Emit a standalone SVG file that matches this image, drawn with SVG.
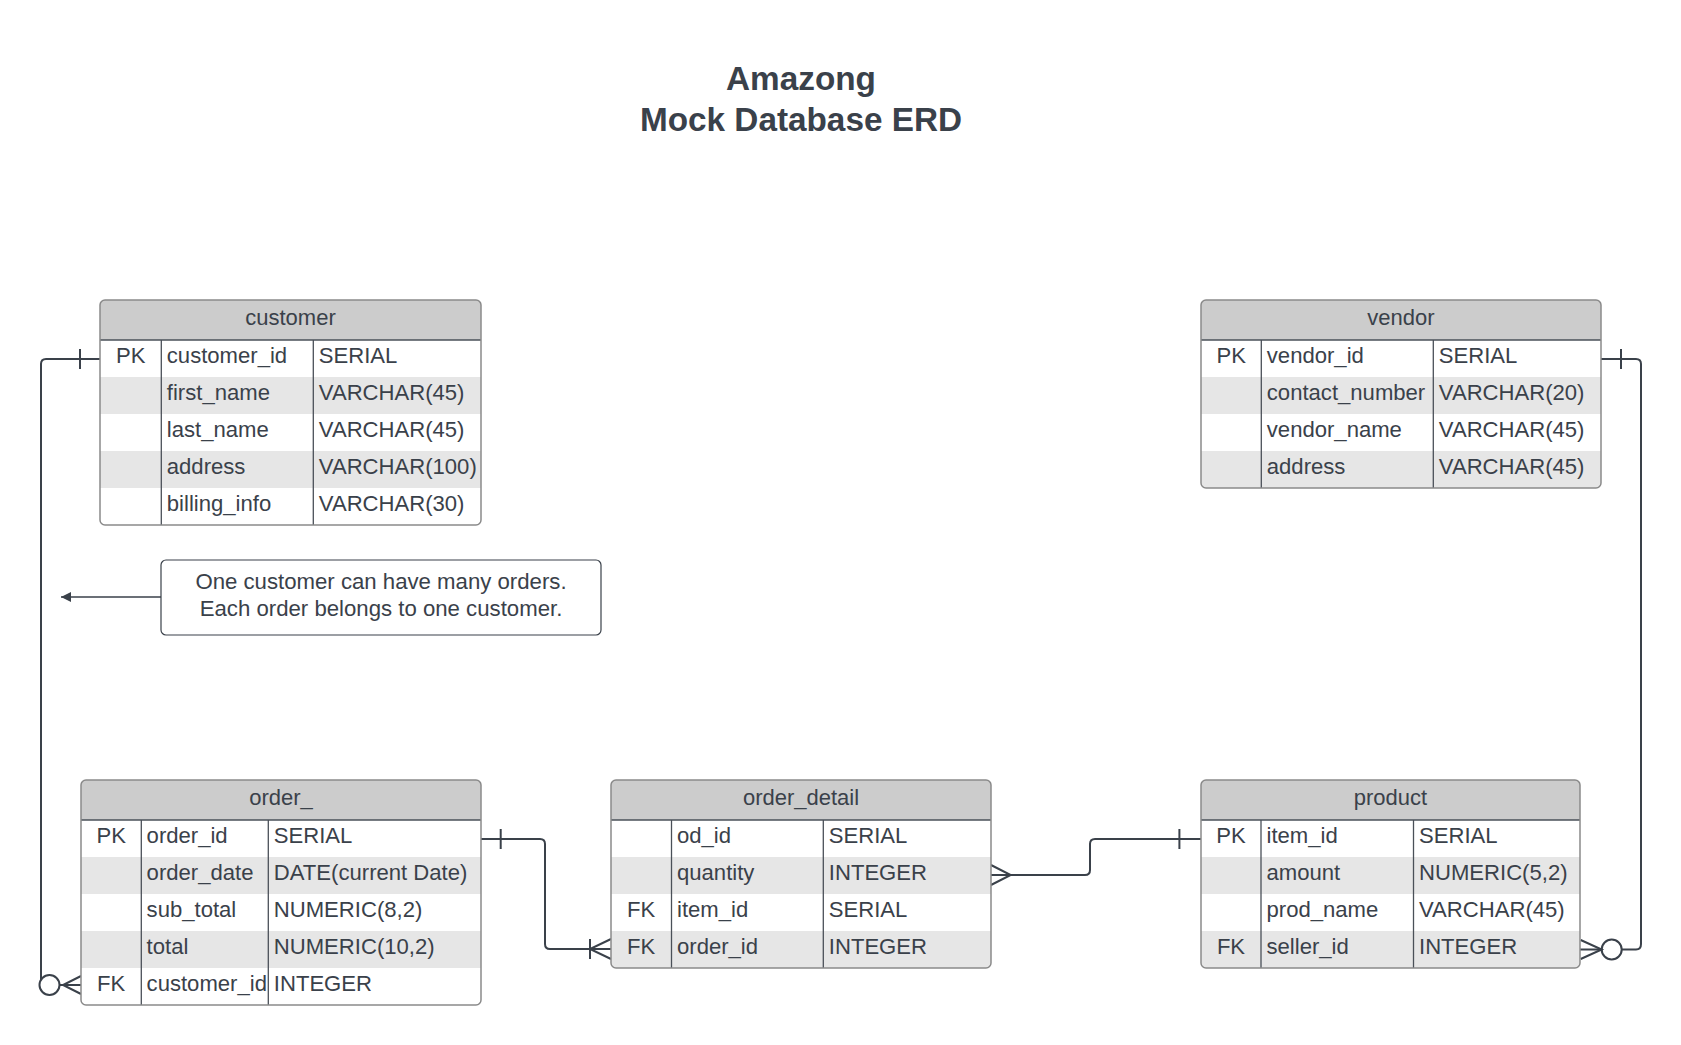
<svg xmlns="http://www.w3.org/2000/svg" width="1681" height="1045" viewBox="0 0 1681 1045">
<style>
  text { font-family: "Liberation Sans", Arial, sans-serif; fill: #3a414a; }
  .title { font-size: 33.3px; font-weight: bold; text-anchor: middle; }
  .th { font-size: 22px; text-anchor: middle; }
  .td { font-size: 22.1px; }
  .key { font-size: 22.1px; text-anchor: middle; }
  .note { font-size: 22.2px; text-anchor: middle; }
  .hdr { fill: #cccccc; }
  .alt { fill: #e6e6e6; }
  .bg { fill: #ffffff; }
  .frame { fill: none; stroke: #8a8a8a; stroke-width: 1.5; }
  .div { stroke: #4a5058; stroke-width: 1.3; }
  .conn { fill: none; stroke: #3a414a; stroke-width: 2; }
  .circ { fill: #ffffff; stroke: #3a414a; stroke-width: 2; }
</style>
<defs>
  <clipPath id="clip-customer"><rect x="100" y="300" width="381" height="225" rx="5"/></clipPath>
  <clipPath id="clip-vendor"><rect x="1201" y="300" width="400" height="188" rx="5"/></clipPath>
  <clipPath id="clip-order"><rect x="81" y="780" width="400" height="225" rx="5"/></clipPath>
  <clipPath id="clip-od"><rect x="611" y="780" width="380" height="188" rx="5"/></clipPath>
  <clipPath id="clip-product"><rect x="1201" y="780" width="379" height="188" rx="5"/></clipPath>
  <marker id="arrow" viewBox="0 0 10 10" refX="10" refY="5" markerWidth="15" markerHeight="10" markerUnits="userSpaceOnUse" orient="auto">
    <path d="M0,0 L10,5 L0,10 z" fill="#3a414a"/>
  </marker>
</defs>
<rect width="1681" height="1045" fill="#ffffff"/>

<g id="title">
  <text class="title" x="801" y="90">Amazong</text>
  <text class="title" x="801" y="131">Mock Database ERD</text>
</g>

<g id="connectors">
  <!-- customer -> order_ -->
  <path class="conn" d="M100,359 H46 Q41,359 41,364 V980 Q41,985 46,985 H81"/>
  <line class="conn" x1="80" y1="349" x2="80" y2="369"/>
  <circle class="circ" cx="49.5" cy="985" r="10"/>
  <path class="conn" d="M81,976 L63,985 L81,994"/>
  <!-- order_ -> order_detail -->
  <path class="conn" d="M481,839 H540 Q545,839 545,844 V944 Q545,949 550,949 H611"/>
  <line class="conn" x1="500.7" y1="829" x2="500.7" y2="849"/>
  <line class="conn" x1="590" y1="939" x2="590" y2="959"/>
  <path class="conn" d="M611,939 L590,949 L611,959"/>
  <!-- order_detail -> product -->
  <path class="conn" d="M991,875 H1085 Q1090,875 1090,870 V844 Q1090,839 1095,839 H1201"/>
  <path class="conn" d="M991,865 L1010.7,875 L991,885"/>
  <line class="conn" x1="1179.4" y1="829" x2="1179.4" y2="849"/>
  <!-- vendor -> product -->
  <path class="conn" d="M1601,359 H1636 Q1641,359 1641,364 V944 Q1641,949.5 1636,949.5 H1580"/>
  <line class="conn" x1="1621" y1="349" x2="1621" y2="369"/>
  <circle class="circ" cx="1611.7" cy="949.5" r="10"/>
  <path class="conn" d="M1580.7,940 L1601.7,949.5 L1580.7,959"/>
  <!-- note arrow -->
  <line x1="161" y1="597" x2="61" y2="597" stroke="#3a414a" stroke-width="1.5" marker-end="url(#arrow)"/>
</g>

<g id="note">
  <rect x="161" y="560" width="440" height="75" rx="5" fill="#ffffff" stroke="#3a414a" stroke-width="1.2"/>
  <text class="note" x="381" y="589">One customer can have many orders.</text>
  <text class="note" x="381" y="616">Each order belongs to one customer.</text>
</g>

<g id="customer">
  <g clip-path="url(#clip-customer)">
    <rect class="bg" x="100" y="300" width="381" height="225"/>
    <rect class="hdr" x="100" y="300" width="381" height="40"/>
    <rect class="alt" x="100" y="377" width="381" height="37"/>
    <rect class="alt" x="100" y="451" width="381" height="37"/>
  </g>
  <line class="div" x1="100" y1="340" x2="481" y2="340"/>
  <line class="div" x1="161.3" y1="340" x2="161.3" y2="525"/>
  <line class="div" x1="313.3" y1="340" x2="313.3" y2="525"/>
  <rect class="frame" x="100" y="300" width="381" height="225" rx="5"/>
  <text class="th" x="290.5" y="325">customer</text>
  <text class="key" x="130.7" y="362.5">PK</text>
  <text class="td" x="166.8" y="362.5">customer_id</text>
  <text class="td" x="318.8" y="362.5">SERIAL</text>
  <text class="td" x="166.8" y="399.5">first_name</text>
  <text class="td" x="318.8" y="399.5">VARCHAR(45)</text>
  <text class="td" x="166.8" y="436.5">last_name</text>
  <text class="td" x="318.8" y="436.5">VARCHAR(45)</text>
  <text class="td" x="166.8" y="473.5">address</text>
  <text class="td" x="318.8" y="473.5">VARCHAR(100)</text>
  <text class="td" x="166.8" y="510.5">billing_info</text>
  <text class="td" x="318.8" y="510.5">VARCHAR(30)</text>
</g>

<g id="vendor">
  <g clip-path="url(#clip-vendor)">
    <rect class="bg" x="1201" y="300" width="400" height="188"/>
    <rect class="hdr" x="1201" y="300" width="400" height="40"/>
    <rect class="alt" x="1201" y="377" width="400" height="37"/>
    <rect class="alt" x="1201" y="451" width="400" height="37"/>
  </g>
  <line class="div" x1="1201" y1="340" x2="1601" y2="340"/>
  <line class="div" x1="1261.3" y1="340" x2="1261.3" y2="488"/>
  <line class="div" x1="1433.3" y1="340" x2="1433.3" y2="488"/>
  <rect class="frame" x="1201" y="300" width="400" height="188" rx="5"/>
  <text class="th" x="1401" y="325">vendor</text>
  <text class="key" x="1231.2" y="362.5">PK</text>
  <text class="td" x="1266.8" y="362.5">vendor_id</text>
  <text class="td" x="1438.8" y="362.5">SERIAL</text>
  <text class="td" x="1266.8" y="399.5">contact_number</text>
  <text class="td" x="1438.8" y="399.5">VARCHAR(20)</text>
  <text class="td" x="1266.8" y="436.5">vendor_name</text>
  <text class="td" x="1438.8" y="436.5">VARCHAR(45)</text>
  <text class="td" x="1266.8" y="473.5">address</text>
  <text class="td" x="1438.8" y="473.5">VARCHAR(45)</text>
</g>

<g id="order_">
  <g clip-path="url(#clip-order)">
    <rect class="bg" x="81" y="780" width="400" height="225"/>
    <rect class="hdr" x="81" y="780" width="400" height="40"/>
    <rect class="alt" x="81" y="857" width="400" height="37"/>
    <rect class="alt" x="81" y="931" width="400" height="37"/>
  </g>
  <line class="div" x1="81" y1="820" x2="481" y2="820"/>
  <line class="div" x1="141.3" y1="820" x2="141.3" y2="1005"/>
  <line class="div" x1="268.3" y1="820" x2="268.3" y2="1005"/>
  <rect class="frame" x="81" y="780" width="400" height="225" rx="5"/>
  <text class="th" x="281" y="805">order_</text>
  <text class="key" x="111.2" y="842.5">PK</text>
  <text class="td" x="146.6" y="842.5">order_id</text>
  <text class="td" x="273.8" y="842.5">SERIAL</text>
  <text class="td" x="146.6" y="879.5">order_date</text>
  <text class="td" x="273.8" y="879.5">DATE(current Date)</text>
  <text class="td" x="146.6" y="916.5">sub_total</text>
  <text class="td" x="273.8" y="916.5">NUMERIC(8,2)</text>
  <text class="td" x="146.6" y="953.5">total</text>
  <text class="td" x="273.8" y="953.5">NUMERIC(10,2)</text>
  <text class="key" x="111.2" y="990.5">FK</text>
  <text class="td" x="146.6" y="990.5">customer_id</text>
  <text class="td" x="273.8" y="990.5">INTEGER</text>
</g>

<g id="order_detail">
  <g clip-path="url(#clip-od)">
    <rect class="bg" x="611" y="780" width="380" height="188"/>
    <rect class="hdr" x="611" y="780" width="380" height="40"/>
    <rect class="alt" x="611" y="857" width="380" height="37"/>
    <rect class="alt" x="611" y="931" width="380" height="37"/>
  </g>
  <line class="div" x1="611" y1="820" x2="991" y2="820"/>
  <line class="div" x1="671.5" y1="820" x2="671.5" y2="968"/>
  <line class="div" x1="823.3" y1="820" x2="823.3" y2="968"/>
  <rect class="frame" x="611" y="780" width="380" height="188" rx="5"/>
  <text class="th" x="801" y="805">order_detail</text>
  <text class="td" x="677" y="842.5">od_id</text>
  <text class="td" x="828.8" y="842.5">SERIAL</text>
  <text class="td" x="677" y="879.5">quantity</text>
  <text class="td" x="828.8" y="879.5">INTEGER</text>
  <text class="key" x="641.2" y="916.5">FK</text>
  <text class="td" x="677" y="916.5">item_id</text>
  <text class="td" x="828.8" y="916.5">SERIAL</text>
  <text class="key" x="641.2" y="953.5">FK</text>
  <text class="td" x="677" y="953.5">order_id</text>
  <text class="td" x="828.8" y="953.5">INTEGER</text>
</g>

<g id="product">
  <g clip-path="url(#clip-product)">
    <rect class="bg" x="1201" y="780" width="379" height="188"/>
    <rect class="hdr" x="1201" y="780" width="379" height="40"/>
    <rect class="alt" x="1201" y="857" width="379" height="37"/>
    <rect class="alt" x="1201" y="931" width="379" height="37"/>
  </g>
  <line class="div" x1="1201" y1="820" x2="1580" y2="820"/>
  <line class="div" x1="1261" y1="820" x2="1261" y2="968"/>
  <line class="div" x1="1413.5" y1="820" x2="1413.5" y2="968"/>
  <rect class="frame" x="1201" y="780" width="379" height="188" rx="5"/>
  <text class="th" x="1390.5" y="805">product</text>
  <text class="key" x="1231" y="842.5">PK</text>
  <text class="td" x="1266.5" y="842.5">item_id</text>
  <text class="td" x="1419" y="842.5">SERIAL</text>
  <text class="td" x="1266.5" y="879.5">amount</text>
  <text class="td" x="1419" y="879.5">NUMERIC(5,2)</text>
  <text class="td" x="1266.5" y="916.5">prod_name</text>
  <text class="td" x="1419" y="916.5">VARCHAR(45)</text>
  <text class="key" x="1231" y="953.5">FK</text>
  <text class="td" x="1266.5" y="953.5">seller_id</text>
  <text class="td" x="1419" y="953.5">INTEGER</text>
</g>
</svg>
